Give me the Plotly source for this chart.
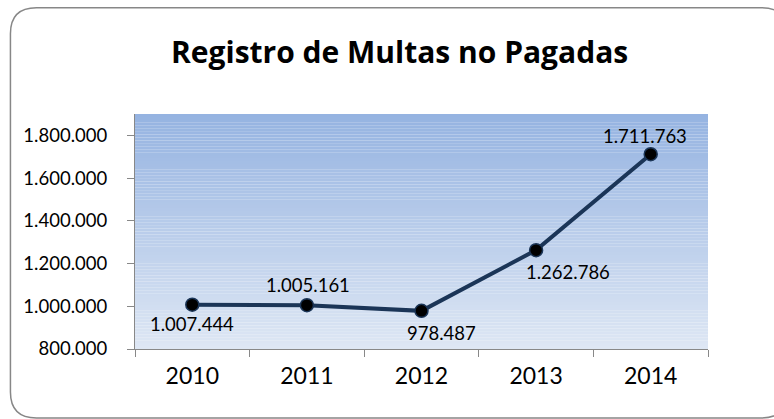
import plotly.graph_objects as go

# data
years = ["2010", "2011", "2012", "2013", "2014"]
multas = [1007444, 1005161, 978487, 1262786, 1711763]
y_ticks = [800000, 1000000, 1200000, 1400000, 1600000, 1800000]

# manual label offsets (px), like the hand-placed Excel labels
label_dx = [0, 1, 20, 32, -6]
label_dy = [-19, 20, -22, -22, 18]

W, H = 774, 419
L, R, T, B = 135, 707.7, 114, 349.4


def px(x, y):
    """window pixel -> paper coords"""
    return (x - L) / (R - L), (B - y) / (B - T)


def mix(c1, c2, t):
    return "rgb(%d,%d,%d)" % tuple(round(a + (b - a) * t) for a, b in zip(c1, c2))


top_col = (149, 179, 225)
bot_col = (222, 231, 244)

shapes = []
n = 80
for i in range(n):
    shapes.append(dict(
        type="rect", xref="x domain", yref="y domain",
        x0=0, x1=1, y0=i / n, y1=(i + 1.02) / n,
        fillcolor=mix(bot_col, top_col, (i + 0.5) / n),
        line=dict(width=0), layer="below",
    ))

# rounded chart border (partly outside the page, like the original)
bl, bt, br, bb, rad = 10.5, 7.5, 787, 418.5, 26
pts = [
    ("M", bl, bt + rad), ("Q", bl, bt, bl + rad, bt), ("L", br - rad, bt),
    ("Q", br, bt, br, bt + rad), ("L", br, bb - rad), ("Q", br, bb, br - rad, bb),
    ("L", bl + rad, bb), ("Q", bl, bb, bl, bb - rad),
]
path = ""
for p in pts:
    cmd, coords = p[0], p[1:]
    xy = []
    for k in range(0, len(coords), 2):
        a, b = px(coords[k], coords[k + 1])
        xy.append("%.5f,%.5f" % (a, b))
    path += cmd + " " + " ".join(xy) + " "
path += "Z"
shapes.append(dict(type="path", xref="paper", yref="paper", path=path,
                   line=dict(color="#878787", width=1.5), layer="above"))

fig = go.Figure()
fig.add_trace(go.Scatter(
    x=years, y=multas, mode="lines+markers",
    line=dict(color="#1B3557", width=4),
    marker=dict(size=13, color="#000000", line=dict(color="#1B3557", width=1.5)),
    cliponaxis=False, hoverinfo="skip",
))

annotations = []
for i, (v, dx, dy) in enumerate(zip(multas, label_dx, label_dy)):
    annotations.append(dict(
        x=i, y=v, xref="x", yref="y", text=f"{v:,}".replace(",", "."),
        showarrow=False, xshift=dx, yshift=dy,
        font=dict(family="Lato", size=18.5, color="#000000"),
    ))

tx, ty = px(399, 51)
annotations.append(dict(
    x=tx, y=ty, xref="paper", yref="paper", text="<b>Registro de Multas no Pagadas</b>",
    showarrow=False, xanchor="center", yanchor="middle",
    font=dict(family="Open Sans", size=30, color="#000000"),
))

fig.update_layout(
    width=W, height=H,
    margin=dict(l=L, r=W - R, t=T, b=H - B, pad=0),
    paper_bgcolor="white", plot_bgcolor="rgba(0,0,0,0)",
    separators=",.",
    showlegend=False,
    shapes=shapes,
    annotations=annotations,
    xaxis=dict(
        type="category", range=[-0.5, 4.5], tickson="boundaries",
        showgrid=False, zeroline=False, showline=True, linecolor="#888888", linewidth=1.2,
        ticks="outside", ticklen=7, tickcolor="#888888", tickwidth=1.2,
        ticklabelstandoff=6,
        tickfont=dict(family="Lato", size=23, color="#000000"),
    ),
    yaxis=dict(
        range=[800000, 1900000], tickvals=y_ticks, tickformat=",d",
        showgrid=False, zeroline=False, showline=True, linecolor="#888888", linewidth=1.2,
        ticks="outside", ticklen=7, tickcolor="#888888", tickwidth=1.2,
        ticklabelstandoff=16,
        tickfont=dict(family="Lato", size=18.5, color="#000000"),
    ),
)

# drop the default page margin so the figure sits at the window corner
fig.write_html(
    "out.html",
    config=dict(displayModeBar=False),
    post_script="document.body.style.margin='0';document.body.style.overflow='hidden';",
)
